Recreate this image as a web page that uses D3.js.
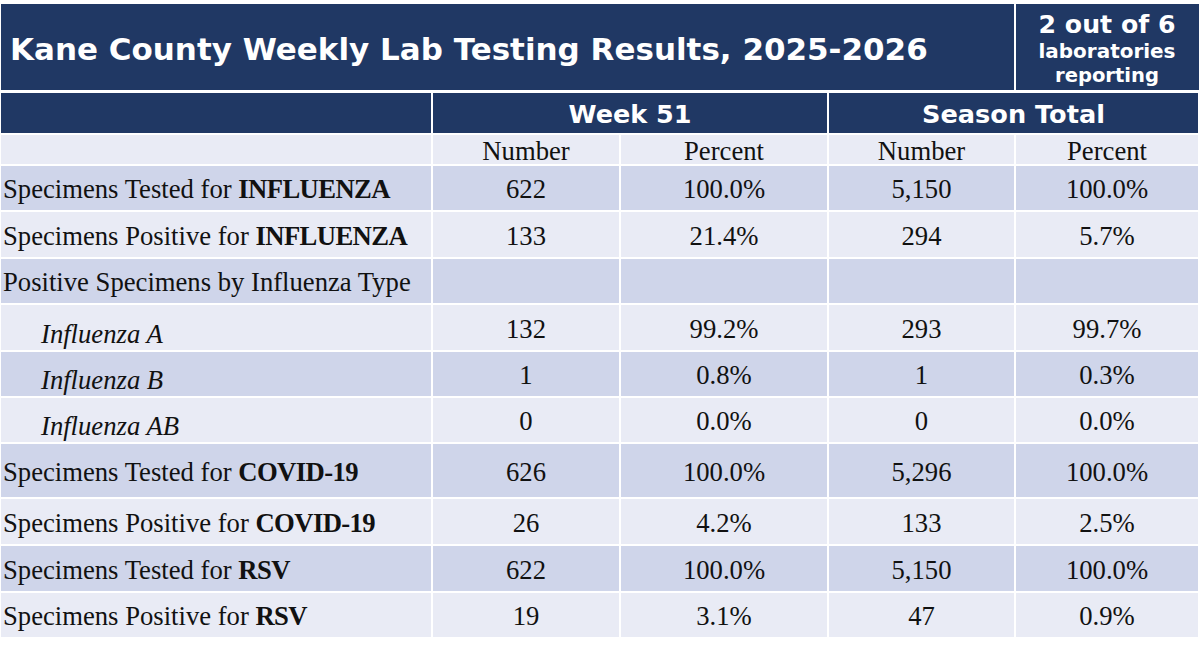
<!DOCTYPE html>
<html>
<head>
<meta charset="utf-8">
<script src="https://cdn.jsdelivr.net/npm/d3@7"></script>
<style>
  body { margin: 0; background: #fff; }
  svg { display: block; }
</style>
</head>
<body>
<svg></svg>
<script>
let title = "Kane County Weekly Lab Testing Results, 2025-2026"
let reportingLines = ["2 out of 6", "laboratories", "reporting"]
let groups = ["Week 51", "Season Total"]
let subColumns = ["Number", "Percent"]

let rowLabels = [
    "Specimens Tested for ",
    "Specimens Positive for ",
    "Positive Specimens by Influenza Type",
    "Influenza A",
    "Influenza B",
    "Influenza AB",
    "Specimens Tested for ",
    "Specimens Positive for ",
    "Specimens Tested for ",
    "Specimens Positive for "
]
let rowTargets = ["INFLUENZA", "INFLUENZA", "", "", "", "", "COVID-19", "COVID-19", "RSV", "RSV"]
let subtypes = ["Influenza A", "Influenza B", "Influenza AB"]

let weekNumber    = [622, 133, null, 132, 1, 0, 626, 26, 622, 19]
let weekPercent   = [100.0, 21.4, null, 99.2, 0.8, 0.0, 100.0, 4.2, 100.0, 3.1]
let seasonNumber  = [5150, 294, null, 293, 1, 0, 5296, 133, 5150, 47]
let seasonPercent = [100.0, 5.7, null, 99.7, 0.3, 0.0, 100.0, 2.5, 100.0, 0.9]

// ---- layout ----
let width = 1200
let height = 647
let navy = "#203864"
let dark = "#CFD5EA"
let light = "#E9EBF5"
let colEdges = [0, 432, 620, 828, 1015, 1199]
let rowHeights = [46, 47, 46, 47, 46, 46, 55, 47, 47, 46]
let firstRowTop = 165
let sansBold = "'DejaVu Sans', Verdana, sans-serif"
let serif = "'Liberation Serif', Cambria, serif"

let fmtNumber = d3.format(",")
let fmtPercent = (v) => d3.format(".1f")(v) + "%"

let svg = d3.select('svg')
    .attr('width', width)
    .attr('height', height)

let rowIndex = d3.range(rowLabels.length)
let rowTops = rowHeights.map((h, i) => firstRowTop + d3.sum(rowHeights.slice(0, i)))
let rowY = d3.scaleOrdinal().domain(rowIndex).range(rowTops)
let rowH = d3.scaleOrdinal().domain(rowIndex).range(rowHeights)

let colKeys = ["label", "weekNumber", "weekPercent", "seasonNumber", "seasonPercent"]
let colX = d3.scaleOrdinal().domain(colKeys).range(colEdges.slice(0, 5))
let colW = d3.scaleOrdinal().domain(colKeys).range(colKeys.map((k, i) => colEdges[i + 1] - colEdges[i]))
let colMid = (k) => colX(k) + colW(k) / 2

// shrink or grow a text so it spans the wanted width
let fitText = (sel, target) => {
    let w = sel.node().getComputedTextLength()
    let fs = parseFloat(sel.attr('font-size'))
    sel.attr('font-size', fs * target / w)
}

// body font size, picked so the longest plain label spans like the original
let probe = svg.append('text')
    .attr('font-family', serif)
    .attr('font-size', 22)
    .text(rowLabels[2])
fitText(probe, 408)
let bodySize = +probe.attr('font-size')
probe.remove()

// ---- title band ----
svg.append('rect')
    .attr('x', 1).attr('y', 4)
    .attr('width', colEdges[4] - 2).attr('height', 86)
    .attr('fill', navy)
svg.append('rect')
    .attr('x', colEdges[4] + 1).attr('y', 4)
    .attr('width', colEdges[5] - colEdges[4] - 1).attr('height', 86)
    .attr('fill', navy)

let titleText = svg.append('text')
    .attr('x', 10).attr('y', 60)
    .attr('font-family', sansBold).attr('font-weight', 'bold')
    .attr('font-size', 24)
    .attr('fill', '#fff')
    .text(title)
fitText(titleText, 918)

let boxMid = colMid("seasonPercent")
let reportY = [33, 58, 82]
let reportW = [137, 137, 104]
let reportSize = [23, 17, 17]
reportingLines.forEach((line, i) => {
    let t = svg.append('text')
        .attr('x', boxMid).attr('y', reportY[i])
        .attr('text-anchor', 'middle')
        .attr('font-family', sansBold).attr('font-weight', 'bold')
        .attr('font-size', reportSize[i])
        .attr('fill', '#fff')
        .text(line)
    fitText(t, reportW[i])
})

// ---- group header row ----
let headTop = 93
let headH = 40
svg.append('rect')
    .attr('x', 1).attr('y', headTop)
    .attr('width', colW("label") - 2).attr('height', headH)
    .attr('fill', navy)

let groupSpans = [
    [colX("weekNumber"), colX("seasonNumber")],
    [colX("seasonNumber"), colEdges[5]]
]
let groupW = [123, 183]
groups.forEach((g, i) => {
    let [a, b] = groupSpans[i]
    svg.append('rect')
        .attr('x', a + 1).attr('y', headTop)
        .attr('width', b - a - 2).attr('height', headH)
        .attr('fill', navy)
    let t = svg.append('text')
        .attr('x', (a + b) / 2).attr('y', 123)
        .attr('text-anchor', 'middle')
        .attr('font-family', sansBold).attr('font-weight', 'bold')
        .attr('font-size', 24)
        .attr('fill', '#fff')
        .text(g)
    fitText(t, groupW[i])
})

// ---- Number / Percent row ----
let subTop = 134
let subH = firstRowTop - subTop
colKeys.forEach((k, i) => {
    svg.append('rect')
        .attr('x', colX(k) + 1).attr('y', subTop + 1)
        .attr('width', colW(k) - 2).attr('height', subH - 2)
        .attr('fill', light)
    if (i > 0) {
        svg.append('text')
            .attr('x', colMid(k)).attr('y', 160)
            .attr('text-anchor', 'middle')
            .attr('font-family', serif)
            .attr('font-size', bodySize)
            .attr('fill', '#111')
            .text(subColumns[(i - 1) % 2])
    }
})

// ---- body rows ----
let rowData = rowIndex.map((i) => ({
    i: i,
    label: rowLabels[i],
    target: rowTargets[i],
    italic: subtypes.includes(rowLabels[i]),
    weekNumber: weekNumber[i],
    weekPercent: weekPercent[i],
    seasonNumber: seasonNumber[i],
    seasonPercent: seasonPercent[i]
}))

let rows = svg.selectAll('g.row')
    .data(rowData)
    .enter()
    .append('g')
    .attr('class', 'row')
    .attr('transform', (d) => `translate(0, ${rowY(d.i)})`)

rows.selectAll('rect')
    .data((d) => colKeys.map((k) => ({ k: k, d: d })))
    .enter()
    .append('rect')
    .attr('x', (c) => colX(c.k) + 1)
    .attr('y', 1)
    .attr('width', (c) => colW(c.k) - 2)
    .attr('height', (c) => rowH(c.d.i) - 2)
    .attr('fill', (c) => c.d.i % 2 === 0 ? dark : light)

// baseline sits a little below the middle of each row; italic sub-type labels sit lower
let baseline = (i) => rowH(i) / 2 + 10

let labels = rows.append('text')
    .attr('x', (d) => d.italic ? 41 : 3)
    .attr('y', (d) => d.italic ? baseline(d.i) + 5 : baseline(d.i))
    .attr('font-family', serif)
    .attr('font-size', bodySize)
    .attr('font-style', (d) => d.italic ? 'italic' : 'normal')
    .attr('fill', '#111')
labels.append('tspan').text((d) => d.label)
labels.append('tspan')
    .attr('font-weight', 'bold')
    .attr('letter-spacing', -0.6)
    .text((d) => d.target)

let valueKeys = colKeys.slice(1)
rows.selectAll('text.value')
    .data((d) => valueKeys.map((k) => ({ k: k, d: d, v: d[k] })).filter((c) => c.v !== null))
    .enter()
    .append('text')
    .attr('class', 'value')
    .attr('x', (c) => colMid(c.k))
    .attr('y', (c) => baseline(c.d.i))
    .attr('text-anchor', 'middle')
    .attr('font-family', serif)
    .attr('font-size', bodySize)
    .attr('fill', '#111')
    .text((c) => c.k.endsWith('Percent') ? fmtPercent(c.v) : fmtNumber(c.v))
</script>
</body>
</html>
